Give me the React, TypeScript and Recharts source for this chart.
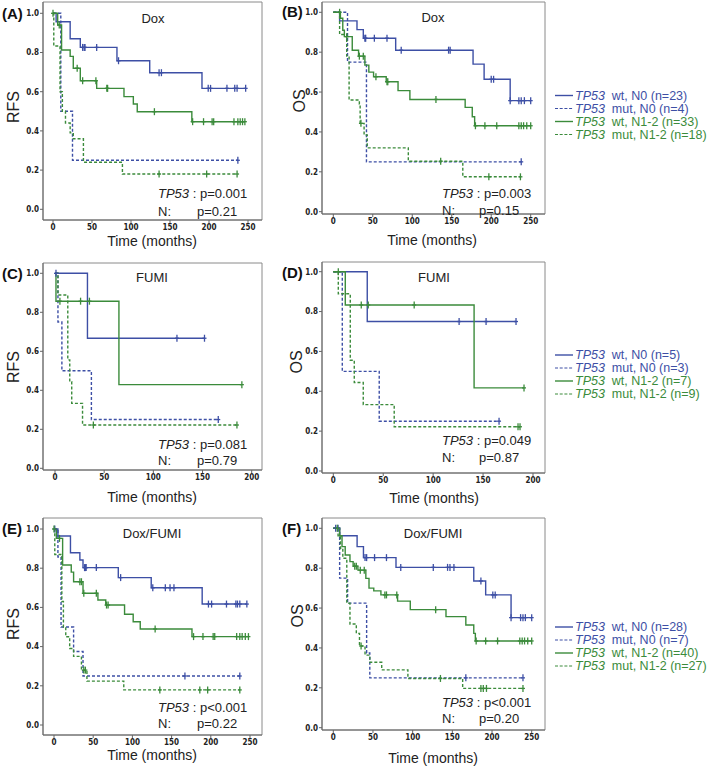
import React from 'react';
import { ComposedChart, Line, Scatter, XAxis, YAxis, ReferenceArea } from 'recharts';

const BLUE = '#3d4fa5';
const GREEN = '#3b8b3b';
const FONT = '"Liberation Sans", Arial, Helvetica, sans-serif';
const TICKFONT = '"Liberation Sans Narrow", "DejaVu Sans Condensed", "Liberation Sans", sans-serif';

// ---------- ticks & labels ----------
const yTicks = [0, 0.2, 0.4, 0.6, 0.8, 1.0];
const xTicks250 = [0, 50, 100, 150, 200, 250];
const xTicks200 = [0, 50, 100, 150, 200];
const panelLetters = ['(A)', '(B)', '(C)', '(D)', '(E)', '(F)'];
const panelTitles = ['Dox', 'Dox', 'FUMI', 'FUMI', 'Dox/FUMI', 'Dox/FUMI'];
const yLabels = ['RFS', 'OS', 'RFS', 'OS', 'RFS', 'OS'];
const tp53P = ['p=0.001', 'p=0.003', 'p=0.081', 'p=0.049', 'p<0.001', 'p<0.001'];
const nodeP = ['p=0.21', 'p=0.15', 'p=0.79', 'p=0.87', 'p=0.22', 'p=0.20'];
const groupNames = ['wt, N0', 'mut, N0', 'wt, N1-2', 'mut, N1-2'];
const doxN = [23, 4, 33, 18];
const fumiN = [5, 3, 7, 9];
const bothN = [28, 7, 40, 27];

type P = [number, number];

// ---------- (A) Dox RFS ----------
const aWtN0: P[] = [[0, 1], [4, 0.957], [22, 0.87], [35, 0.826], [82, 0.758], [124, 0.697], [191, 0.617], [247, 0.617]];
const aWtN0C: P[] = [[38, 0.826], [40, 0.826], [41, 0.826], [56, 0.826], [84, 0.758], [136, 0.697], [139, 0.697], [199, 0.617], [202, 0.617], [223, 0.617], [233, 0.617], [236, 0.617], [247, 0.617]];
const aMutN0: P[] = [[0, 1], [10, 0.5], [25, 0.25], [237, 0.25]];
const aMutN0C: P[] = [[237, 0.25]];
const aWtN12: P[] = [[0, 1], [6, 0.94], [11, 0.813], [22, 0.78], [26, 0.72], [35, 0.656], [56, 0.617], [91, 0.575], [103, 0.537], [108, 0.498], [178, 0.447], [246, 0.447]];
const aWtN12C: P[] = [[0, 1], [8, 0.94], [31, 0.72], [38, 0.656], [55, 0.656], [69, 0.617], [70, 0.617], [130, 0.498], [179, 0.447], [193, 0.447], [204, 0.447], [206, 0.447], [232, 0.447], [237, 0.447], [240, 0.447], [243, 0.447], [246, 0.447]];
const aMutN12: P[] = [[0, 1], [1, 0.833], [9, 0.6], [12, 0.5], [16, 0.44], [22, 0.39], [26, 0.36], [39, 0.24], [89, 0.18], [236, 0.18]];
const aMutN12C: P[] = [[136, 0.18], [197, 0.18], [236, 0.18]];

// ---------- (B) Dox OS ----------
const bWtN0: P[] = [[0, 1], [8, 0.957], [30, 0.913], [38, 0.87], [79, 0.81], [177, 0.74], [191, 0.664], [224, 0.557], [250, 0.557]];
const bWtN0C: P[] = [[40, 0.87], [41, 0.87], [52, 0.87], [68, 0.87], [86, 0.81], [146, 0.81], [148, 0.81], [200, 0.664], [203, 0.664], [224, 0.557], [235, 0.557], [238, 0.557], [242, 0.557], [250, 0.557]];
const bMutN0: P[] = [[0, 1], [18, 0.75], [42, 0.25], [238, 0.25]];
const bMutN0C: P[] = [[238, 0.25]];
const bWtN12: P[] = [[0, 1], [9, 0.97], [12, 0.91], [14, 0.878], [24, 0.81], [32, 0.78], [40, 0.735], [45, 0.7], [51, 0.677], [67, 0.652], [82, 0.607], [97, 0.563], [167, 0.523], [176, 0.476], [179, 0.431], [250, 0.431]];
const bWtN12C: P[] = [[8, 1], [17, 0.878], [33, 0.78], [38, 0.78], [54, 0.677], [68, 0.652], [69, 0.652], [130, 0.563], [180, 0.431], [192, 0.431], [207, 0.431], [235, 0.431], [238, 0.431], [241, 0.431], [245, 0.431], [250, 0.431]];
const bMutN12: P[] = [[0, 1], [8, 0.889], [17, 0.78], [20, 0.56], [33, 0.54], [34, 0.443], [39, 0.385], [43, 0.32], [95, 0.253], [164, 0.175], [237, 0.175]];
const bMutN12C: P[] = [[35, 0.443], [136, 0.253], [197, 0.175], [237, 0.175]];

// ---------- (C) FUMI RFS ----------
const cWtN0: P[] = [[0, 1], [33, 0.667], [152, 0.667]];
const cWtN0C: P[] = [[1, 1], [124, 0.667], [152, 0.667]];
const cMutN0: P[] = [[0, 1], [3, 0.75], [7, 0.5], [37, 0.25], [166, 0.25]];
const cMutN0C: P[] = [[166, 0.25]];
const cWtN12: P[] = [[0, 1], [1, 0.857], [65, 0.429], [190, 0.429]];
const cWtN12C: P[] = [[5, 0.857], [26, 0.857], [35, 0.857], [190, 0.429]];
const cMutN12: P[] = [[0, 1], [3, 0.889], [13, 0.556], [15, 0.444], [17, 0.333], [28, 0.222], [185, 0.222]];
const cMutN12C: P[] = [[39, 0.222], [185, 0.222]];

// ---------- (D) FUMI OS ----------
const dWtN0: P[] = [[0, 1], [34, 0.75], [183, 0.75]];
const dWtN0C: P[] = [[126, 0.75], [153, 0.75], [183, 0.75]];
const dMutN0: P[] = [[0, 1], [9, 0.5], [46, 0.25], [166, 0.25]];
const dMutN0C: P[] = [[166, 0.25]];
const dWtN12: P[] = [[0, 1], [12, 0.833], [141, 0.417], [191, 0.417]];
const dWtN12C: P[] = [[5, 1], [28, 0.833], [35, 0.833], [81, 0.833], [191, 0.417]];
const dMutN12: P[] = [[0, 1], [5, 0.889], [17, 0.556], [21, 0.444], [30, 0.333], [61, 0.222], [187, 0.222]];
const dMutN12C: P[] = [[185, 0.222], [187, 0.222]];

// ---------- (E) Dox/FUMI RFS ----------
const eWtN0: P[] = [[0, 1], [5, 0.964], [21, 0.879], [33, 0.842], [37, 0.803], [82, 0.752], [124, 0.7], [189, 0.617], [246, 0.617]];
const eWtN0C: P[] = [[1, 1], [39, 0.803], [40, 0.803], [41, 0.803], [54, 0.803], [85, 0.752], [126, 0.7], [142, 0.7], [148, 0.7], [153, 0.7], [197, 0.617], [201, 0.617], [220, 0.617], [232, 0.617], [234, 0.617], [237, 0.617], [246, 0.617]];
const eMutN0: P[] = [[0, 1], [5, 0.857], [9, 0.5], [25, 0.375], [37, 0.25], [237, 0.25]];
const eMutN0C: P[] = [[167, 0.25], [237, 0.25]];
const eWtN12: P[] = [[0, 1], [3, 0.952], [11, 0.816], [22, 0.78], [25, 0.731], [37, 0.672], [56, 0.638], [66, 0.612], [90, 0.565], [101, 0.527], [110, 0.49], [176, 0.451], [248, 0.451]];
const eWtN12C: P[] = [[0, 1], [7, 0.952], [33, 0.731], [35, 0.731], [38, 0.672], [54, 0.672], [67, 0.612], [69, 0.612], [129, 0.49], [178, 0.451], [190, 0.451], [203, 0.451], [205, 0.451], [233, 0.451], [237, 0.451], [240, 0.451], [244, 0.451], [248, 0.451]];
const eMutN12: P[] = [[0, 1], [1, 0.87], [10, 0.63], [12, 0.5], [15, 0.45], [20, 0.39], [25, 0.35], [35, 0.28], [42, 0.224], [89, 0.179], [237, 0.179]];
const eMutN12C: P[] = [[38, 0.28], [40, 0.28], [135, 0.179], [186, 0.179], [196, 0.179], [237, 0.179]];

// ---------- (F) Dox/FUMI OS ----------
const fWtN0: P[] = [[0, 1], [8, 0.963], [30, 0.908], [38, 0.853], [79, 0.804], [177, 0.736], [192, 0.666], [224, 0.552], [250, 0.552]];
const fWtN0C: P[] = [[3, 1], [6, 1], [40, 0.853], [42, 0.853], [52, 0.853], [67, 0.853], [85, 0.804], [126, 0.804], [144, 0.804], [147, 0.804], [152, 0.804], [186, 0.736], [201, 0.666], [204, 0.666], [224, 0.552], [236, 0.552], [239, 0.552], [242, 0.552], [250, 0.552]];
const fMutN0: P[] = [[0, 1], [8, 0.75], [18, 0.625], [42, 0.375], [46, 0.25], [239, 0.25]];
const fMutN0C: P[] = [[167, 0.25], [239, 0.25]];
const fWtN12: P[] = [[0, 1], [8, 0.963], [11, 0.908], [15, 0.866], [21, 0.833], [25, 0.81], [31, 0.79], [41, 0.749], [45, 0.7], [51, 0.686], [60, 0.666], [81, 0.635], [97, 0.592], [142, 0.557], [167, 0.515], [177, 0.473], [179, 0.435], [250, 0.435]];
const fWtN12C: P[] = [[5, 1], [27, 0.81], [29, 0.81], [34, 0.79], [39, 0.79], [65, 0.666], [67, 0.666], [80, 0.666], [129, 0.592], [180, 0.435], [192, 0.435], [207, 0.435], [235, 0.435], [238, 0.435], [241, 0.435], [245, 0.435], [250, 0.435]];
const fMutN12: P[] = [[0, 1], [6, 0.963], [9, 0.9], [12, 0.85], [17, 0.624], [21, 0.52], [29, 0.473], [33, 0.41], [40, 0.364], [46, 0.328], [61, 0.29], [94, 0.247], [163, 0.197], [239, 0.197]];
const fMutN12C: P[] = [[35, 0.41], [135, 0.247], [186, 0.197], [189, 0.197], [193, 0.197], [239, 0.197]];

const pts = (a: P[]) => a.map(([t, s]) => ({ t, s }));

type Box = { x0: number; x1: number; y0: number; y1: number };
type Cfg = { box: Box; xp: number[]; yp: number[]; xTicks: number[]; sets: P[][] };

// layout of each panel: plot box, pixel positions of two x ticks and two y ticks
const panels: Cfg[] = [
  { box: { x0: 43, x1: 262, y0: 2, y1: 220 }, xp: [0, 53, 250, 248], yp: [0, 209.3, 1, 13.3], xTicks: xTicks250, sets: [aWtN0, aWtN0C, aMutN0, aMutN0C, aWtN12, aWtN12C, aMutN12, aMutN12C] },
  { box: { x0: 322, x1: 545, y0: 2, y1: 214 }, xp: [0, 333.3, 250, 530.7], yp: [0, 211.7, 1, 12.3], xTicks: xTicks250, sets: [bWtN0, bWtN0C, bMutN0, bMutN0C, bWtN12, bWtN12C, bMutN12, bMutN12C] },
  { box: { x0: 43, x1: 262, y0: 263, y1: 470 }, xp: [0, 55, 200, 251.7], yp: [0, 468.3, 1, 273.3], xTicks: xTicks200, sets: [cWtN0, cWtN0C, cMutN0, cMutN0C, cWtN12, cWtN12C, cMutN12, cMutN12C] },
  { box: { x0: 322, x1: 545, y0: 262, y1: 473 }, xp: [0, 333.3, 200, 533], yp: [0, 471, 1, 271.7], xTicks: xTicks200, sets: [dWtN0, dWtN0C, dMutN0, dMutN0C, dWtN12, dWtN12C, dMutN12, dMutN12C] },
  { box: { x0: 43, x1: 262, y0: 518, y1: 735 }, xp: [0, 54, 250, 250], yp: [0, 725, 1, 529], xTicks: xTicks250, sets: [eWtN0, eWtN0C, eMutN0, eMutN0C, eWtN12, eWtN12C, eMutN12, eMutN12C] },
  { box: { x0: 322, x1: 545, y0: 518, y1: 730 }, xp: [0, 333.3, 250, 531.7], yp: [0, 727.7, 1, 528.3], xTicks: xTicks250, sets: [fWtN0, fWtN0C, fMutN0, fMutN0C, fWtN12, fWtN12C, fMutN12, fMutN12C] },
];

const seriesStyle = [
  { color: BLUE, dash: false },
  { color: BLUE, dash: true },
  { color: GREEN, dash: false },
  { color: GREEN, dash: true },
];

function Cross(props: any) {
  const { cx, cy, fill } = props;
  if (cx == null || cy == null) return null;
  return (
    <g>
      <line x1={cx} x2={cx} y1={cy - 3.5} y2={cy + 3.5} stroke={fill} strokeWidth={1.3} />
      <line x1={cx - 2} x2={cx + 2} y1={cy} y2={cy} stroke={fill} strokeWidth={1.3} />
    </g>
  );
}

function Panel({ cfg }: { cfg: Cfg }) {
  const { box, xp, yp, xTicks, sets } = cfg;
  const L = 40, B = 24, M = 3;
  const bw = box.x1 - box.x0, bh = box.y1 - box.y0;
  const sx = (xp[3] - xp[1]) / (xp[2] - xp[0]);
  const xmin = xp[0] - (xp[1] - box.x0) / sx;
  const xmax = xp[0] + (box.x1 - xp[1]) / sx;
  const sy = (yp[1] - yp[3]) / (yp[2] - yp[0]);
  const ymin = yp[0] - (box.y1 - yp[1]) / sy;
  const ymax = yp[0] + (yp[1] - box.y0) / sy;
  const W = L + bw + M, H = M + bh + B;
  const tickStyle = { fontSize: 8, fontWeight: 700, fill: '#222', fontFamily: TICKFONT };
  return (
    <div style={{ position: 'absolute', left: box.x0 - L, top: box.y0 - M }}>
      <ComposedChart width={W} height={H} margin={{ top: M, right: M, bottom: 0, left: 0 }}>
        <XAxis type="number" dataKey="t" domain={[xmin, xmax]} ticks={xTicks} allowDataOverflow height={B}
          interval={0} tickSize={3} tickMargin={1} stroke="#666" tick={tickStyle} />
        <YAxis type="number" dataKey="s" domain={[ymin, ymax]} ticks={yTicks} allowDataOverflow width={L}
          interval={0} tickSize={3} tickMargin={1} stroke="#666" tick={tickStyle}
          tickFormatter={(v: number) => v.toFixed(1)} />
        <ReferenceArea x1={xmin} x2={xmax} y1={ymin} y2={ymax} fill="none" stroke="#8a8a8a" strokeWidth={1} ifOverflow="visible" />
        {seriesStyle.map((st, i) => (
          <Line key={'l' + i} data={pts(sets[i * 2])} dataKey="s" type="stepAfter" stroke={st.color}
            strokeWidth={1.4} strokeDasharray={st.dash ? '3 2' : undefined} dot={false} activeDot={false}
            isAnimationActive={false} />
        ))}
        {seriesStyle.map((st, i) => (
          <Scatter key={'c' + i} data={pts(sets[i * 2 + 1])} dataKey="s" fill={st.color}
            shape={(p: any) => <Cross {...p} />} isAnimationActive={false} />
        ))}
      </ComposedChart>
    </div>
  );
}

// annotation positions
const letterPos = [[2, 13], [282, 11], [2, 273], [282, 272], [2, 528], [282, 528]];
const yLabelPos = [[13, 107], [299, 101], [13, 367], [296, 362], [13, 624], [297, 616]];
const titlePos = [[153, 18], [433, 17], [152, 277], [434, 277], [152, 533], [433, 533]];
const timePos = [[152, 241], [432, 240], [152, 497], [434, 498], [152, 755], [433, 758]];
const pPos = [[158, 193, 211, 197], [442, 193, 210.7, 479], [158, 444, 460, 197], [442, 440, 457, 479], [158, 707, 723, 197], [442, 702, 718, 479]];
const legendY = [[95.5, 108.5, 121.5, 134.5], [355, 368, 381, 394], [627, 640, 653, 666]];
const legendN = [doxN, fumiN, bothN];

function Overlay() {
  return (
    <svg width={708} height={770} style={{ position: 'absolute', left: 0, top: 0, pointerEvents: 'none' }} fontFamily={FONT}>
      {panelLetters.map((s, i) => (
        <text key={'L' + i} x={letterPos[i][0]} y={letterPos[i][1]} dominantBaseline="central" fontSize={15} fontWeight={700} fill="#111">{s}</text>
      ))}
      {yLabels.map((s, i) => (
        <text key={'Y' + i} x={yLabelPos[i][0]} y={yLabelPos[i][1]} dominantBaseline="central" textAnchor="middle" fontSize={16} fill="#222"
          transform={`rotate(-90 ${yLabelPos[i][0]} ${yLabelPos[i][1]})`}>{s}</text>
      ))}
      {panelTitles.map((s, i) => (
        <text key={'T' + i} x={titlePos[i][0]} y={titlePos[i][1]} dominantBaseline="central" textAnchor="middle" fontSize={13} fill="#222">{s}</text>
      ))}
      {timePos.map((p, i) => (
        <text key={'X' + i} x={p[0]} y={p[1]} dominantBaseline="central" textAnchor="middle" fontSize={14} fill="#222">Time (months)</text>
      ))}
      {pPos.map((p, i) => (
        <g key={'P' + i} fontSize={13} fill="#222">
          <text x={p[0]} y={p[1]} dominantBaseline="central"><tspan fontStyle="italic">TP53</tspan><tspan> : {tp53P[i]}</tspan></text>
          <text x={p[0]} y={p[2]} dominantBaseline="central">N:</text>
          <text x={p[3]} y={p[2]} dominantBaseline="central">{nodeP[i]}</text>
        </g>
      ))}
      {legendY.map((ys, j) => (
        <g key={'G' + j} fontSize={12.5}>
          {ys.map((y, k) => {
            const st = seriesStyle[k];
            return (
              <g key={k}>
                <line x1={555} x2={573} y1={y} y2={y} stroke={st.color} strokeWidth={st.dash ? 1 : 1.4} strokeDasharray={st.dash ? '3 1.7' : undefined} />
                <text x={575} y={y} dominantBaseline="central" fill={st.color}>
                  <tspan fontStyle="italic" fill={st.color}>TP53</tspan><tspan fill={st.color}>{'\u00a0 ' + groupNames[k] + ' (n=' + legendN[j][k] + ')'}</tspan>
                </text>
              </g>
            );
          })}
        </g>
      ))}
    </svg>
  );
}

export default function App() {
  return (
    <div style={{ position: 'absolute', left: 0, top: 0, width: 708, height: 770, background: '#fff', fontFamily: FONT }}>
      {panels.map((c, i) => <Panel key={i} cfg={c} />)}
      <Overlay />
    </div>
  );
}
